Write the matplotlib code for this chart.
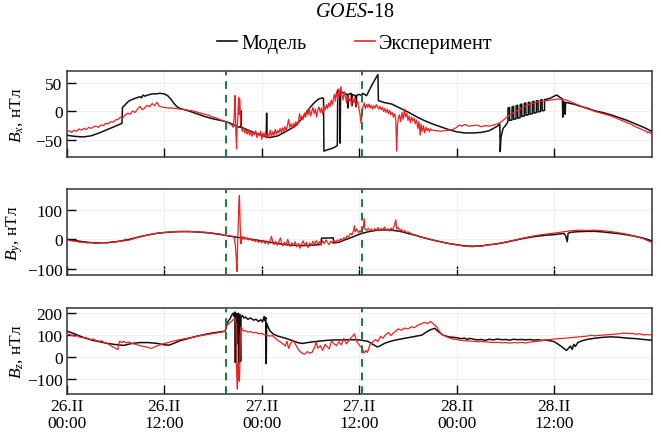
import numpy as np
import matplotlib
matplotlib.use("Agg")
import matplotlib.pyplot as plt
from matplotlib.lines import Line2D

plt.rcParams['font.family'] = ['Liberation Serif', 'DejaVu Serif']
plt.rcParams['mathtext.fontset'] = 'custom'
plt.rcParams['mathtext.rm'] = 'Liberation Serif'
plt.rcParams['mathtext.it'] = 'Liberation Serif:italic'

# time in hours from 26.II 00:00
tick_hours = [0, 12, 24, 36, 48, 60]
tick_labels = ['26.II\n00:00', '26.II\n12:00', '27.II\n00:00',
               '27.II\n12:00', '28.II\n00:00', '28.II\n12:00']
event_hours = [19.57, 36.3]

# Bx, model
bx_mod_t = [0, 1, 2, 3, 4, 5, 6, 6.8, 6.85, 7.2, 7.6, 8.2, 8.8, 9.0, 9.2, 9.4, 9.6, 10, 10.5, 11, 11.5, 12,
            12.4, 12.8, 13.2, 13.6, 14, 15, 16, 17, 18, 19, 19.6, 20, 20.6, 21, 21.4, 21.45, 21.5, 22, 23,
            24, 24.55, 24.6, 24.65, 25, 26, 27, 28, 29, 29.5, 30, 30.5, 31, 31.5, 31.6, 31.65, 32, 32.5,
            33, 33.3, 33.35, 33.6, 33.65, 33.7, 34, 34.5, 34.6, 34.65, 35, 35.1, 35.15, 35.5, 35.6, 35.7,
            36, 36.3, 36.4, 36.9, 37.5, 38, 38.3, 38.35, 38.6, 39, 40, 41, 42, 43, 44, 45, 46, 47, 48, 49,
            50, 51, 52, 52.5, 53, 53.3, 53.35, 53.45, 53.7, 54.0,
            54.30, 54.31, 54.50, 54.51, 54.80, 54.81, 55.00, 55.01, 55.30, 55.31, 55.50, 55.51,
            55.80, 55.81, 56.00, 56.01, 56.30, 56.31, 56.50, 56.51, 56.80, 56.81, 57.00, 57.01,
            57.30, 57.31, 57.50, 57.51, 57.80, 57.81, 58.00, 58.01, 58.30, 58.31, 58.50, 58.51,
            58.80, 58.81, 59.2, 59.6, 60.0, 60.3, 60.6, 61.0, 61.05, 61.1, 61.3, 61.35, 61.4, 62, 62.4,
            63, 64, 65, 66, 67, 68, 69, 70, 71, 72]
bx_mod_v = [-42, -44, -45, -43, -38, -32, -26, -21, 7, 12, 18, 22, 25, 26, 24, 29, 27, 29, 31, 31, 32, 31,
            28, 22, 14, 8, 5, 1, -4, -9, -13, -16, -18, -20, -24, -27, -28, 1, -28, -31, -37,
            -42, -45, -3, -45, -46, -43, -35, -27, -12, -2, 8, 16, 22, 24, 23, -70, -68, -66,
            -63, -60, 38, 36, -56, 35, 33, 30, 6, 30, 32, 10, 30, 28, 8, 29,
            30, 28, 32, 28, 45, 58, 65, 19, 18, 16, 13, 6, -1, -9, -16, -22, -27, -32, -36, -38,
            -38, -37, -34, -30, -26, -22, -71, -45, -30, -25,
            -18, 6, 7, -16, -15, 8, 9, -14, -13, 10, 11, -12,
            -11, 12, 13, -9, -8, 14, 15, -7, -6, 16, 16, -5,
            -4, 17, 18, -3, -2, 19, 19, -1, 0, 20, 21, 1,
            2, 21, 22, 24, 27, 29, 26, 22, -10, 18, 15, -5, 16, 14, 13,
            10, 6, 1, -2, -6, -11, -16, -22, -28, -35]

# Bx, measured
bx_exp_t = [0, 0.3, 0.6, 0.9, 1.2, 1.5, 1.8, 2.1, 2.4, 2.7, 3.0, 3.3, 3.6, 3.9, 4.2, 4.5, 4.8, 5.1, 5.4, 5.7,
            6.0, 6.3, 6.6, 6.9, 7.2, 7.5, 7.8, 8.1, 8.4, 8.7, 9.0, 9.3, 9.6, 9.9, 10.2, 10.5, 10.8, 11.1,
            11.4, 11.7, 12.0, 12.5, 13, 13.5, 14, 14.5, 15, 15.5, 16, 16.5, 17, 17.5, 18, 18.5, 19, 19.5,
            20, 20.3, 20.5, 20.6, 20.7, 20.75, 20.8, 20.9, 20.95, 21.05, 21.15, 21.2, 21.3, 21.4, 21.5,
            21.6, 21.75, 21.9, 22.05, 22.2, 22.35, 22.5, 22.65, 22.8, 22.95, 23.1, 23.25, 23.4, 23.55,
            23.7, 23.85, 24.0, 24.15, 24.3, 24.45, 24.6, 24.75, 24.9, 25.05, 25.2, 25.35, 25.5, 25.65,
            25.8, 25.95, 26.1, 26.25, 26.4, 26.55, 26.7, 26.85, 27.0, 27.15, 27.3, 27.45, 27.6, 27.75,
            27.9, 28.05, 28.2, 28.35, 28.5, 28.65, 28.8, 28.95, 29.1, 29.25, 29.4, 29.55, 29.7, 29.85,
            30.0, 30.15, 30.3, 30.45, 30.6, 30.75, 30.9, 31.05, 31.2, 31.35, 31.5, 31.65, 31.8, 31.95,
            32.1, 32.25, 32.4, 32.55, 32.7, 32.85, 32.95, 33.05, 33.2, 33.35, 33.5, 33.6, 33.75, 33.85,
            34.0, 34.15, 34.3, 34.45, 34.6, 34.75, 34.9, 35.05, 35.2, 35.35, 35.5, 35.65, 35.8, 35.95,
            36.1, 36.2, 36.3, 36.45, 36.6, 36.75, 36.9, 37.05, 37.2, 37.35, 37.5, 37.65, 37.8, 37.95,
            38.1, 38.25, 38.4, 38.55, 38.7, 38.85, 39.0, 39.15, 39.3, 39.45, 39.6, 39.75, 39.9, 40.05,
            40.2, 40.35, 40.5, 40.6, 40.7, 40.8, 40.95, 41.1, 41.25, 41.4, 41.55, 41.7, 41.85, 42.0,
            42.15, 42.3, 42.45, 42.6, 42.75, 42.9, 43.05, 43.2, 43.35, 43.5, 43.6, 43.75, 43.9, 44.05,
            44.2, 44.35, 44.5, 44.65, 44.8, 45, 45.5, 46, 46.5, 47, 47.5, 48, 48.3, 48.6, 49, 49.5, 50,
            50.5, 51, 51.5, 52, 52.5, 53, 53.5, 54, 54.5, 55, 55.5, 56, 56.5, 57, 57.5, 58, 58.5, 59,
            59.5, 60, 60.5, 61, 61.5, 62, 62.5, 63, 63.5, 64, 64.5, 65, 65.5, 66, 66.5, 67, 67.5, 68,
            68.5, 69, 69.5, 70, 70.5, 71, 71.3, 71.5, 71.7, 72]
bx_exp_v = [-36, -34, -37, -33, -35, -31, -33, -30, -32, -28, -30, -27, -26, -28, -24, -25, -21, -22, -18, -19,
            -15, -14, -10, -11, -6, -3, -5, 1, -2, 4, 9, 3, 6, 11, 8, 14, 10, 16,
            9, 8, 7, 6, 6, 5, 4, 3, 2, 1, -1, -3, -5, -7, -10, -12, -15, -18,
            -21, -24, -28, -12, 28, 5, -30, -66, -35, -10, 25, -5, 22, -20, -28,
            -35, -30, -38, -32, -40, -33, -42, -35, -44, -36, -41, -34, -46, -38,
            -43, -35, -49, -38, -44, -36, -47, -39, -43, -33, -45, -36, -42, -32,
            -40, -33, -38, -30, -37, -29, -35, -27, -33, -25, -14, -28, -22, -30,
            -21, -26, -18, -25, -20, -4, -15, -8, -14, -3, -10, 2, -6, 5,
            -8, 0, 7, -4, 4, -10, 3, 8, -2, 6, -5, 10, 2, 12,
            5, 15, 8, 20, 12, 25, 30, 18, 35, 22, 40, 28, 44, 32,
            20, 35, 25, 15, 28, 18, 23, 10, 25, 15, 22, 12, 18, 5,
            -5, -20, -10, 8, 15, 5, 12, 7, 13, 6, 11, 4, 10, 6,
            12, 8, 4, 9, 3, 7, 0, 5, -2, 4, -4, 2, -6, -2,
            -10, -4, -15, -70, -25, -12, -6, -18, -2, -14, 4, -10, -3, -16,
            -8, -20, -10, -17, -12, -22, -15, -30, -18, -42, -22, -35, -25, -38,
            -28, -34, -30, -36, -31, -33, -34, -35, -34, -33, -32, -28, -24, -26, -23, -26, -25,
            -24, -27, -25, -26, -24, -22, -18, -12, -6, -2, 2, 6, 10, 13, 15, 17, 18, 19,
            20, 21, 22, 21, 20, 17, 14, 11, 8, 5, 3, 0, -2, -4, -6, -8, -11, -14,
            -17, -20, -23, -27, -30, -33, -35, -38, -36, -41]

# By, model
by_mod_t = [0, 1, 2, 3, 4, 5, 6, 7, 8, 9, 10, 11, 12, 13, 14, 15, 16, 17, 18, 19, 20, 21, 22, 23, 24, 25,
            26, 27, 28, 29, 30, 31, 31.3, 31.35, 32.8, 32.85, 33.5, 34, 35, 36, 37, 38, 39, 40, 41, 42,
            43, 44, 45, 46, 47, 48, 49, 50, 51, 52, 53, 54, 55, 56, 57, 58, 59, 60, 61.2, 61.4, 61.6,
            61.7, 62, 63, 64, 65, 66, 67, 68, 69, 70, 71, 72]
by_mod_v = [0, -4, -8, -11, -12, -11, -8, -4, 2, 9, 15, 20, 23, 25, 26, 26, 25, 23, 20, 16, 11, 7, 3, -1, -5, -10,
            -14, -18, -20, -21, -20, -18, -16, 4, 5, -12, -10, -4, 6, 17, 25, 30, 32, 31, 27, 20,
            13, 5, -2, -8, -14, -18, -22, -23, -22, -18, -15, -10, -4, 2, 7, 11, 14, 16, 20, 12, -8,
            20, 24, 26, 27, 27, 25, 22, 19, 15, 10, 4, -5]

# By, measured
by_exp_t = [0, 0.5, 1, 1.5, 2, 2.5, 3, 3.5, 4, 4.5, 5, 5.5, 6, 6.5, 7, 7.2, 7.4, 8, 8.5, 9, 9.5, 10, 10.5,
            11, 11.5, 12, 13, 14, 15, 16, 17, 18, 19, 19.5, 20, 20.4, 20.6, 20.75, 20.85, 20.95, 21.0,
            21.05, 21.12, 21.18, 21.25, 21.3, 21.35, 21.45, 21.55, 21.7, 21.85, 22.0, 22.2, 22.4, 22.6,
            22.8, 23.0, 23.2, 23.4, 23.6, 23.8, 24.0, 24.2, 24.4, 24.6, 24.8, 25.0, 25.2, 25.35, 25.5,
            25.7, 25.9, 26.1, 26.3, 26.45, 26.6, 26.8, 27.0, 27.2, 27.35, 27.5, 27.7, 27.9, 28.1, 28.3,
            28.5, 28.7, 28.9, 29.1, 29.3, 29.5, 29.7, 29.9, 30.1, 30.3, 30.5, 30.7, 30.9, 31.1, 31.3,
            31.5, 31.7, 31.9, 32.1, 32.3, 32.5, 32.7, 32.9, 33.1, 33.3, 33.5, 33.7, 33.9, 34.1, 34.3,
            34.5, 34.7, 34.9, 35.1, 35.3, 35.4, 35.5, 35.7, 35.9, 36.1, 36.3, 36.5, 36.6, 36.7, 36.9,
            37.1, 37.3, 37.5, 37.7, 37.9, 38.1, 38.3, 38.5, 38.7, 38.9, 39.1, 39.3, 39.5, 39.7, 39.9,
            40.1, 40.3, 40.5, 40.6, 40.8, 41.0, 41.2, 41.4, 41.6, 41.8, 42.0, 42.5, 43, 43.5, 44, 44.5,
            45, 45.5, 46, 46.5, 47, 47.5, 48, 48.5, 49, 49.5, 50, 50.5, 51, 51.5, 52, 52.5, 53, 53.5,
            54, 55, 56, 57, 58, 59, 60, 61, 62, 63, 64, 65, 66, 67, 68, 69, 70, 71, 72]
by_exp_v = [-2, -5, -6, -9, -10, -12, -11, -13, -12, -11, -12, -9, -9, -6, -5, 1, -4, 0, 5, 8, 12, 14, 18,
            20, 22, 23, 26, 27, 27, 25, 24, 21, 17, 14, 12, 10, 6, -20, -60, -108, -50,
            10, 60, 120, 148, 100, 40, -15, 10, 0, 8, 2, 5, -2, 3,
            -5, 1, -8, -2, -10, -4, -12, -3, -14, -5, -16, -7, 10, -8, -18,
            -6, -20, -8, 5, -12, -22, -10, -18, 0, -15, -24, -12, -20, -8, -25,
            -14, -30, -15, -5, -22, -10, -28, -12, -20, -6, -18, -4, -15, -8, -20,
            -5, -14, -2, -10, -18, -6, -12, -3, -10, -2, -6, 2, -4, 6, 2,
            12, 8, 20, 15, 30, 46, 25, 35, 22, 30, 20, 40, 70, 35, 30,
            38, 28, 35, 27, 36, 30, 40, 29, 37, 31, 42, 30, 36, 28, 38,
            32, 45, 66, 35, 40, 28, 34, 24, 30, 22, 25, 18, 14, 8, 5, 2,
            -2, -5, -8, -11, -14, -16, -19, -21, -23, -24, -25, -22, -23, -20, -18, -17, -14, -12,
            -9, -3, 3, 9, 14, 18, 21, 25, 29, 31, 30, 31, 29, 26, 22, 17, 10, 2, -11]

# Bz, model
bz_mod_t = [0, 0.5, 1, 2, 3, 4, 5, 6, 7, 8, 9, 10, 11, 12, 12.6, 13, 14, 15, 16, 17, 18, 19, 19.5, 19.6,
            19.7, 19.9, 20.1, 20.3, 20.5, 20.6, 20.7, 20.75, 20.8, 20.9, 20.95, 21.0, 21.1, 21.15, 21.2,
            21.3, 21.4, 21.45, 21.6, 21.8, 22.0, 22.3, 22.6, 23.0, 23.3, 23.6, 23.9, 24.1, 24.3, 24.4,
            24.5, 24.55, 24.6, 24.8, 25.0, 25.4, 26, 27, 28, 28.5, 29, 30, 31, 32, 33, 34, 35, 36, 37,
            37.6, 38.2, 38.6, 39.1, 39.6, 40.3, 41.1, 42, 43, 43.7, 44.3, 44.8, 45.3, 45.6, 46.3, 47,
            48, 48.5, 49, 49.3, 49.6, 50, 50.5, 51, 51.5, 52, 52.5, 53, 53.5, 54, 54.5, 55, 55.5, 56,
            56.5, 57, 57.5, 58, 58.5, 59, 59.5, 60, 60.5, 61, 61.5, 62, 62.2, 62.4, 62.6, 62.9, 63.5,
            64, 65, 66, 67, 68, 69, 70, 71, 72]
bz_mod_v = [118, 112, 105, 90, 78, 70, 62, 57, 53, 62, 66, 66, 63, 56, 54, 60, 75, 85, 95, 103, 110, 115, 118, 130,
            150, 165, 175, 190, 200, 185, 205, -25, 190, 198, 60, 190, 200, -30, 185,
            195, -20, 180, 190, 178, 182, 172, 178, 168, 172, 162, 170, 160, 185, 165,
            180, -30, 155, 135, 120, 105, 95, 85, 72, 65, 62, 68, 72, 76, 78, 78, 79, 78, 72,
            60, 46, 52, 62, 69, 76, 82, 88, 95, 100, 115, 125, 131, 120, 100, 92,
            88, 84, 86, 80, 85, 82, 78, 80, 76, 81, 78, 82, 79, 80, 77, 81, 79, 80,
            78, 80, 77, 79, 76, 77, 74, 70, 58, 45, 30, 50, 35, 58, 48, 66, 75,
            80, 86, 90, 92, 90, 86, 84, 80, 77]

# Bz, measured
bz_exp_t = [0, 0.3, 0.6, 1, 1.3, 1.6, 2, 2.3, 2.6, 3, 3.3, 3.6, 4, 4.3, 4.6, 5, 5.3, 5.6, 6, 6.2, 6.3, 6.4,
            6.5, 6.8, 7, 7.3, 7.6, 8, 8.5, 9, 9.5, 10, 10.3, 10.6, 11, 11.5, 12, 12.5, 13, 13.5, 14, 15,
            16, 17, 18, 19, 19.5, 19.6, 19.9, 20.2, 20.5, 20.7, 20.85, 20.9, 20.95, 21.0, 21.05, 21.1,
            21.15, 21.2, 21.25, 21.3, 21.35, 21.45, 21.6, 21.8, 22.0, 22.3, 22.6, 23.0, 23.3, 23.6, 24.0,
            24.3, 24.6, 25.0, 25.3, 25.6, 26.0, 26.3, 26.6, 26.9, 27.1, 27.3, 27.6, 27.9, 28.2, 28.5,
            28.8, 29.1, 29.3, 29.6, 29.9, 30.2, 30.5, 30.7, 30.9, 31.2, 31.5, 31.8, 32.1, 32.3, 32.6,
            32.9, 33.2, 33.5, 33.8, 34.1, 34.4, 34.7, 35.0, 35.4, 35.7, 36.0, 36.4, 36.6, 36.8, 37.0,
            37.3, 37.6, 38.0, 38.3, 38.6, 38.9, 39.2, 39.6, 39.9, 40.2, 40.5, 40.8, 41.2, 41.6, 42.0,
            42.4, 42.8, 43.2, 43.6, 44.0, 44.4, 44.8, 45.2, 45.5, 45.8, 46.2, 46.6, 47, 47.5, 48, 48.5,
            49, 49.5, 50, 50.5, 51, 51.5, 52, 52.5, 53, 53.5, 54, 54.5, 55, 55.5, 56, 56.5, 57, 57.5, 58,
            58.5, 59, 59.5, 60, 61, 62, 63, 64, 64.5, 65, 66, 67, 68, 68.5, 69, 69.5, 70, 70.5, 71, 71.5,
            72]
bz_exp_v = [100, 104, 98, 95, 97, 90, 88, 90, 83, 80, 82, 75, 72, 74, 66, 62, 55, 48, 40, 36, 35, 60,
            72, 66, 72, 65, 68, 62, 58, 52, 48, 44, 40, 42, 50, 56, 62, 66, 72, 76, 80, 87,
            94, 101, 107, 113, 118, 140, 150, 160, 170, 177, 150, -60, -110, -146, -80, -30,
            -100, -60, -110, -40, 100, 140, 125, 118, 120, 114, 116, 110, 113, 106, 108,
            102, 100, 95, 98, 88, 75, 68, 60, 50, 72, 40, 65, 74, 55, 35,
            22, 15, 13, 25, 18, 22, 45, 67, 40, 52, 30, 58, 45, 37, 74,
            60, 52, 70, 55, 85, 60, 75, 88, 105, 70, 55, 37, 18, 30, 21,
            55, 67, 80, 70, 95, 85, 100, 112, 98, 110, 118, 128, 122, 132, 128,
            138, 134, 145, 150, 158, 152, 162, 148, 140, 120, 102, 95, 88, 82, 80, 76,
            75, 73, 72, 70, 71, 69, 68, 66, 67, 65, 66, 64, 66, 65, 67, 64, 68, 70, 72,
            75, 78, 80, 82, 85, 88, 92, 95, 99, 97, 100, 103, 106, 110, 107, 108, 104, 106, 101, 103,
            100]

panels = [
    (bx_mod_t, bx_mod_v, bx_exp_t, bx_exp_v, r'$B_x$, нТл', (-81, 71), [-50, 0, 50]),
    (by_mod_t, by_mod_v, by_exp_t, by_exp_v, r'$B_y$, нТл', (-120, 170), [-100, 0, 100]),
    (bz_mod_t, bz_mod_v, bz_exp_t, bz_exp_v, r'$B_z$, нТл', (-168, 224), [-100, 0, 100, 200]),
]
bottoms = [0.636, 0.3655, 0.092]

fig = plt.figure(figsize=(6.61, 4.35), dpi=100)

for (mt, mv, et, ev, lab, ylim, yt), b in zip(panels, bottoms):
    ax = fig.add_axes([0.101, b, 0.885, 0.198])
    ax.grid(True, color='#eeeeee', lw=0.6)
    ax.plot(mt, mv, color='#111111', lw=1.1, zorder=3)
    ax.plot(et, ev, color='#ee2222', lw=0.9, zorder=4)
    for h in event_hours:
        ax.axvline(h, color='#1d7a3e', lw=1.4, ls=(0, (4, 3)), zorder=5)
    ax.set_xlim(0, 72)
    ax.set_ylim(*ylim)
    ax.set_yticks(yt)
    ax.set_xticks(tick_hours)
    if b == bottoms[-1]:
        ax.set_xticklabels(tick_labels, linespacing=1.05)
    else:
        ax.set_xticklabels([])
    ax.tick_params(direction='in', length=6.5, width=1.0, labelsize=12.5, pad=3,
                   top=False, right=False)
    ax.set_ylabel(lab, fontsize=12.5)
    ax.yaxis.set_label_coords(-0.072, 0.5)
    for s in ax.spines.values():
        s.set_linewidth(1.1)
        s.set_color('#333333')

fig.text(0.537, 0.972, r'$\mathit{GOES}$-18', ha='center', va='center', fontsize=14.5)
handles = [Line2D([], [], color='#111111', lw=1.2), Line2D([], [], color='#ee2222', lw=1.2)]
fig.legend(handles, ['Модель', 'Эксперимент'], loc='center', bbox_to_anchor=(0.537, 0.897),
           ncol=2, frameon=False, fontsize=14.5, handlelength=1.0, handletextpad=0.2,
           columnspacing=2.4)

fig.savefig('out.png', dpi=100)
